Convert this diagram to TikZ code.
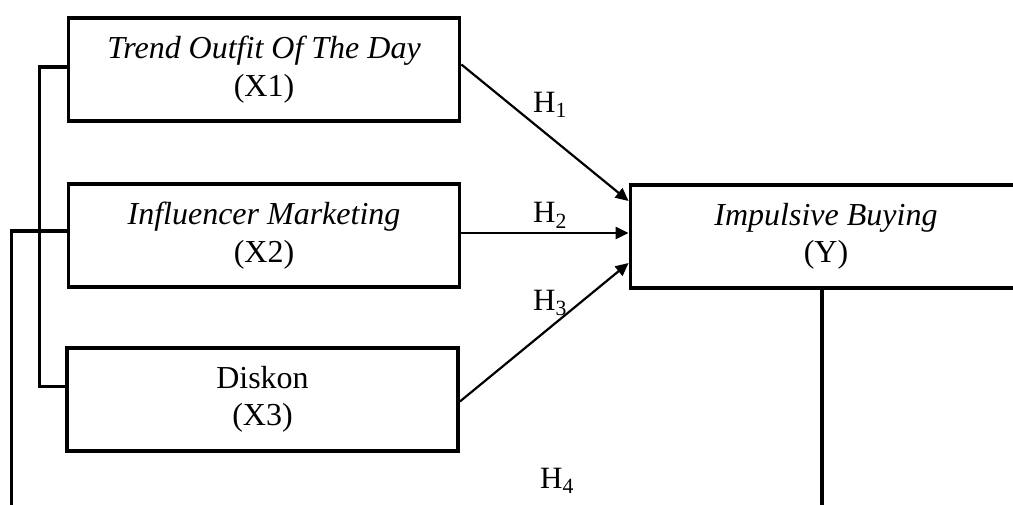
\documentclass[tikz,border=0pt]{standalone}
\usepackage{fontspec}
\setmainfont{Liberation Serif}
\usetikzlibrary{arrows.meta}
\begin{document}
\begin{tikzpicture}[x=1pt,y=-1pt,
  varbox/.style={draw,line width=3.8pt,minimum width=391pt,minimum height=103pt,
    inner sep=0pt,align=center,font=\fontsize{32}{37.5}\selectfont},
  hyp/.style={line width=2.2pt,-{Triangle[length=13pt,width=12pt]}},
  bracket/.style={line width=3.2pt},
  hlabel/.style={anchor=base west,inner sep=0pt,font=\fontsize{31}{36}\selectfont}]
\useasboundingbox (0,0) rectangle (1013,504);
\clip (0,0) rectangle (1013,504);
\fill[white] (0,0) rectangle (1013,504);
\node[varbox] (x1) at (264,69.5) {\textit{Trend Outfit Of The Day}\\(X1)};
\node[varbox] (x2) at (264,235.5) {\textit{Influencer Marketing}\\(X2)};
\node[varbox] (x3) at (262.5,399.5) {Diskon\\(X3)};
\node[varbox] (y) at (826,236.5) {\textit{Impulsive Buying}\\(Y)};
% hypotheses arrows
\draw[hyp] ([yshift=5pt]x1.east) -- ([yshift=35.5pt]y.west);
\draw[hyp] ([yshift=2.5pt]x2.east) -- ([yshift=3.5pt]y.west);
\draw[hyp] ([yshift=-2pt]x3.east) -- ([yshift=-26.5pt]y.west);
% bracket joining the independent variables
\draw[bracket] ([yshift=2.5pt]x1.west) -- ++(-27,0) |- ([yshift=13pt]x3.west);
\draw[bracket] ([yshift=4.5pt]x2.west) -- ++(-55,0) -- ++(0,300);
\draw[bracket] ([xshift=-4pt]y.south) -- ++(0,240);
% labels
\node[hlabel] (h1) at (533,112) {H\textsubscript{1}};
\node[hlabel] (h2) at (533,222.5) {H\textsubscript{2}};
\node[hlabel] (h3) at (533,310) {H\textsubscript{3}};
\node[hlabel] (h4) at (540,488) {H\textsubscript{4}};
\end{tikzpicture}
\end{document}
